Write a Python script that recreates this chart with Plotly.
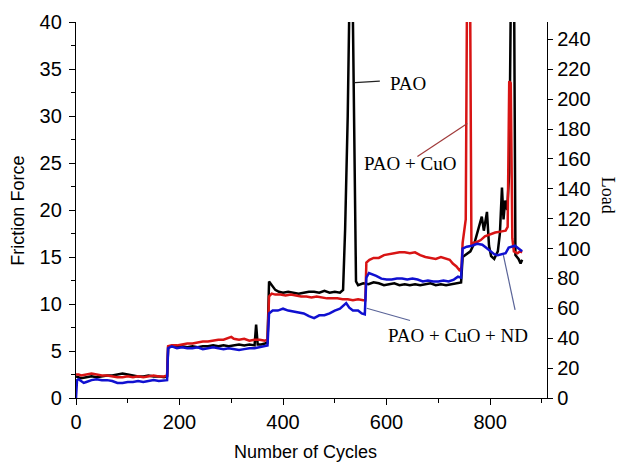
import plotly.graph_objects as go

# ---------------- data ----------------
cycles_pao = [0, 5, 10, 20, 30, 40, 50, 60, 70, 80, 90, 100, 110, 120, 130, 140, 150, 160, 170, 176,
              178, 185, 195, 205, 215, 225, 235, 245, 255, 265, 275, 285, 295, 305, 315, 325, 335, 345, 348, 351, 358, 365, 370,
              373, 378, 385, 392, 400, 410, 420, 430, 440, 450, 460, 470, 480, 490, 500, 510, 516,
              520, 525, 529, 534, 538, 541,
              545, 555, 565, 575, 585, 595, 605, 615, 625, 635, 645, 655, 665, 675, 685, 695, 705, 715, 725, 735, 744,
              747, 755, 762, 770, 778, 784, 788, 794, 798, 802, 808, 815, 819, 823, 826, 829, 833, 837, 841, 846, 849, 855, 859, 862]
ff_pao = [2.3, 2.2, 2.1, 2.2, 2.3, 2.2, 2.3, 2.4, 2.4, 2.5, 2.6, 2.5, 2.4, 2.3, 2.3, 2.4, 2.3, 2.3, 2.2, 2.3,
          5.4, 5.5, 5.4, 5.5, 5.4, 5.5, 5.4, 5.5, 5.5, 5.6, 5.5, 5.6, 5.5, 5.6, 5.7, 5.6, 5.7, 5.6, 7.8, 5.7, 5.7, 5.8, 5.9,
          12.4, 12.0, 11.5, 11.3, 11.2, 11.3, 11.2, 11.1, 11.2, 11.3, 11.3, 11.2, 11.4, 11.2, 11.3, 11.2, 11.5,
          18.0, 30.0, 45.0, 45.0, 28.0, 12.4,
          12.0, 12.2, 12.1, 12.3, 12.2, 12.0, 12.1, 12.2, 12.0, 12.1, 12.0, 12.1, 12.0, 12.1, 12.2, 12.0, 12.1, 12.0, 12.1, 12.2, 12.3,
          15.0, 15.3, 15.6, 16.5, 18.0, 19.3, 17.8, 19.8, 16.2, 15.1, 14.8, 15.6, 17.5, 22.4, 19.0, 21.0, 20.0, 24.0, 48.0, 48.0, 15.2, 14.8, 14.3, 14.7]

cycles_cuo = [0, 5, 10, 20, 30, 40, 50, 60, 70, 80, 90, 100, 110, 120, 130, 140, 150, 160, 170, 176,
              178, 185, 195, 205, 215, 225, 235, 245, 255, 265, 275, 285, 295, 300, 305, 315, 325, 335, 345, 355, 365, 370,
              373, 378, 385, 395, 405, 415, 425, 435, 445, 455, 465, 475, 485, 495, 505, 515, 525, 535, 545, 555, 559,
              561, 567, 575, 585, 595, 605, 615, 625, 635, 645, 655, 665, 675, 685, 695, 705, 715, 722, 728, 735, 742, 745,
              747, 750, 753, 756, 761, 764, 768, 775, 782, 790, 800, 810, 820, 830, 834, 837, 840, 843, 846, 853, 858, 862]
ff_cuo = [2.5, 2.5, 2.4, 2.5, 2.6, 2.5, 2.4, 2.4, 2.3, 2.2, 2.2, 2.3, 2.2, 2.3, 2.2, 2.3, 2.4, 2.3, 2.3, 2.4,
          5.5, 5.6, 5.6, 5.7, 5.8, 5.8, 5.9, 6.0, 6.0, 6.1, 6.2, 6.2, 6.4, 6.5, 6.3, 6.2, 6.3, 6.1, 6.2, 6.2, 6.1, 6.2,
          10.8, 11.1, 11.0, 11.0, 10.9, 11.0, 10.9, 10.8, 10.8, 10.7, 10.8, 10.7, 10.6, 10.6, 10.6, 10.5, 10.5, 10.4, 10.5, 10.4, 10.4,
          14.4, 14.7, 14.9, 14.9, 15.2, 15.3, 15.4, 15.5, 15.5, 15.4, 15.5, 15.2, 15.0, 14.9, 14.8, 15.0, 14.8, 14.7, 14.3, 14.0, 13.5, 14.0,
          16.5, 17.8, 19.0, 48.0, 48.0, 16.1, 16.5, 16.6, 16.8, 17.2, 17.4, 17.6, 17.7, 17.8, 18.2, 33.7, 33.5, 17.0, 15.6, 15.4, 15.6, 15.5]

cycles_nd = [0, 2, 5, 10, 15, 20, 30, 40, 50, 60, 70, 80, 90, 100, 110, 120, 130, 140, 150, 160, 170, 176,
             178, 185, 195, 205, 215, 225, 235, 245, 255, 265, 275, 285, 295, 305, 315, 325, 335, 345, 355, 365, 370,
             373, 380, 390, 400, 410, 420, 430, 440, 450, 460, 470, 480, 490, 500, 510, 518, 522, 528, 535, 545, 552, 558,
             561, 566, 572, 580, 590, 600, 610, 620, 630, 640, 650, 660, 670, 680, 690, 700, 710, 720, 730, 738, 744,
             747, 755, 765, 775, 785, 792, 800, 808, 815, 822, 830, 836, 842, 848, 855, 862]
ff_nd = [0.0, 1.9, 2.0, 1.8, 1.6, 1.7, 1.9, 2.0, 1.9, 1.9, 1.8, 1.6, 1.6, 1.7, 1.7, 1.8, 1.7, 1.8, 1.9, 1.8, 1.9, 1.9,
         5.3, 5.5, 5.3, 5.4, 5.3, 5.3, 5.4, 5.2, 5.3, 5.4, 5.3, 5.2, 5.3, 5.2, 5.1, 5.2, 5.3, 5.3, 5.4, 5.5, 5.6,
         9.0, 9.3, 9.3, 9.5, 9.3, 9.2, 9.1, 9.0, 8.7, 8.5, 8.8, 8.8, 9.0, 9.3, 9.5, 9.9, 10.1, 9.6, 9.3, 9.3, 9.0, 8.9,
         12.8, 13.3, 13.2, 13.0, 12.7, 12.6, 12.6, 12.7, 12.7, 12.6, 12.7, 12.6, 12.4, 12.5, 12.4, 12.4, 12.5, 12.4, 12.6, 12.9, 12.8,
         15.9, 16.1, 16.2, 16.4, 16.3, 16.0, 15.6, 15.3, 15.2, 15.3, 15.4, 16.0, 16.1, 16.2, 15.9, 15.6]

x_ticks = [0, 200, 400, 600, 800]
ff_ticks = [0, 5, 10, 15, 20, 25, 30, 35, 40]
load_ticks = [0, 20, 40, 60, 80, 100, 120, 140, 160, 180, 200, 220, 240]

# ---------------- figure ----------------
SANS = "Liberation Sans, Arial, sans-serif"
SERIF = "Liberation Serif, Times New Roman, serif"

fig = go.Figure()
fig.add_trace(go.Scatter(x=cycles_pao, y=ff_pao, mode="lines", name="PAO",
                         line=dict(color="#000000", width=2.5)))
fig.add_trace(go.Scatter(x=cycles_cuo, y=ff_cuo, mode="lines", name="PAO + CuO",
                         line=dict(color="#d81414", width=2.5)))
fig.add_trace(go.Scatter(x=cycles_nd, y=ff_nd, mode="lines", name="PAO + CuO + ND",
                         line=dict(color="#1010d0", width=2.5)))
fig.add_trace(go.Scatter(x=[], y=[], yaxis="y2", showlegend=False))

axis_common = dict(showgrid=False, zeroline=False, showline=True, linecolor="black",
                   linewidth=1.3, ticks="outside", tickcolor="black", tickwidth=1.3,
                   tickfont=dict(family=SANS, size=20, color="black"))

fig.update_layout(
    width=621, height=463,
    margin=dict(l=76, r=74, t=22, b=65),
    paper_bgcolor="white", plot_bgcolor="white",
    showlegend=False,
    xaxis=dict(range=[0, 910], tickvals=x_ticks, ticklen=6,
               minor=dict(dtick=100, tick0=0, ticks="outside", ticklen=4, tickcolor="black", tickwidth=1.2),
               **axis_common),
    yaxis=dict(range=[0, 40], tickvals=ff_ticks, ticklen=6, ticklabelstandoff=3,
               minor=dict(dtick=2.5, tick0=0, ticks="outside", ticklen=4, tickcolor="black", tickwidth=1.2),
               **axis_common),
    yaxis2=dict(range=[0, 251.7], tickvals=load_ticks, ticklen=5, overlaying="y", side="right",
                anchor="x", **axis_common),
)

# axis titles
fig.add_annotation(text="Friction Force", xref="paper", yref="paper", x=-0.1234, y=0.498,
                   textangle=-90, showarrow=False, xanchor="center", yanchor="middle",
                   font=dict(family=SANS, size=18, color="black"))
fig.add_annotation(text="Number of Cycles", xref="paper", yref="paper", x=0.487, y=-0.1425,
                   showarrow=False, xanchor="center", yanchor="middle",
                   font=dict(family=SANS, size=18, color="black"))
fig.add_annotation(text="Load", xref="paper", yref="paper", x=1.13, y=0.54,
                   textangle=90, showarrow=False, xanchor="center", yanchor="middle",
                   font=dict(family=SERIF, size=18, color="black"))

# series labels with leader lines
fig.add_annotation(text="PAO", x=641.5, y=33.5, showarrow=False, xanchor="center", yanchor="middle",
                   font=dict(family=SERIF, size=19, color="black"))
fig.add_annotation(text="PAO + CuO", x=645, y=24.9, showarrow=False, xanchor="center", yanchor="middle",
                   font=dict(family=SERIF, size=19, color="black"))
fig.add_annotation(text="PAO + CuO + ND", x=738.8, y=6.7, showarrow=False, xanchor="center", yanchor="middle",
                   font=dict(family=SERIF, size=19, color="black"))

fig.add_shape(type="line", x0=539, y0=33.55, x1=587, y1=33.7, line=dict(color="#222222", width=1.2))
fig.add_shape(type="line", x0=659.6, y0=25.7, x1=756, y1=29.2, line=dict(color="#a03a3a", width=1.2))
fig.add_shape(type="line", x0=561.7, y0=9.55, x1=645.4, y1=8.24, line=dict(color="#5a6498", width=1.2))
fig.add_shape(type="line", x0=825.7, y0=15.2, x1=848.3, y1=9.37, line=dict(color="#5a6498", width=1.2))

fig.write_html("out.html")
